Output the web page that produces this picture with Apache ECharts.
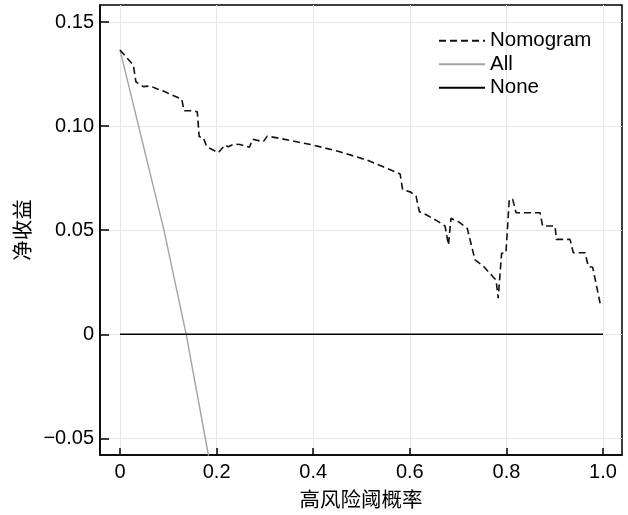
<!DOCTYPE html>
<html>
<head>
<meta charset="utf-8">
<script src="https://cdn.jsdelivr.net/npm/echarts@6/dist/echarts.min.js"></script>
<style>
html,body{margin:0;padding:0;background:#fff;}
#chart{width:628px;height:515px;}
</style>
</head>
<body>
<div id="chart"></div>
<script>
// ---- data ----
var nomogramX = [0, 0.0276, 0.033, 0.048, 0.062, 0.076, 0.093, 0.107, 0.128, 0.1325, 0.148, 0.160, 0.164, 0.1725, 0.1795, 0.190, 0.2035, 0.2174, 0.224, 0.236, 0.248, 0.268, 0.2747, 0.2967, 0.305, 0.331, 0.400, 0.455, 0.511, 0.545, 0.580, 0.585, 0.602, 0.613, 0.6197, 0.635, 0.6557, 0.673, 0.680, 0.6853, 0.7005, 0.719, 0.735, 0.7522, 0.773, 0.7785, 0.783, 0.790, 0.799, 0.806, 0.813, 0.820, 0.8696, 0.875, 0.9006, 0.9036, 0.9317, 0.9385, 0.9627, 0.9697, 0.9786, 0.994];
var nomogramY = [0.1366, 0.1293, 0.1213, 0.119, 0.1193, 0.118, 0.1165, 0.115, 0.1129, 0.1074, 0.1074, 0.1069, 0.0949, 0.0946, 0.0901, 0.0889, 0.0872, 0.0909, 0.0901, 0.0914, 0.0912, 0.0899, 0.0937, 0.0925, 0.0952, 0.0941, 0.0909, 0.0877, 0.0837, 0.0805, 0.077, 0.0696, 0.0683, 0.0664, 0.0589, 0.0573, 0.0546, 0.052, 0.0429, 0.0557, 0.0541, 0.0509, 0.0357, 0.0328, 0.0274, 0.0261, 0.0173, 0.0389, 0.0392, 0.0648, 0.0648, 0.0584, 0.0584, 0.052, 0.052, 0.0456, 0.0456, 0.0392, 0.0392, 0.0325, 0.0322, 0.0149];
var allX = [0, 0.091, 0.137, 0.183, 0.20];
var allY = [0.1366, 0.05, 0, -0.058, -0.08];
var noneX = [0, 1];
var noneY = [0, 0];
var xTicks = [0, 0.2, 0.4, 0.6, 0.8, 1.0];
var xTickLabels = ['0', '0.2', '0.4', '0.6', '0.8', '1.0'];
var yTicks = [-0.05, 0, 0.05, 0.10, 0.15];
var yTickLabels = ['\u22120.05', '0', '0.05', '0.10', '0.15'];
var seriesNames = ['Nomogram', 'All', 'None'];
var xTitle = '高风险阈概率';
var yTitle = '净收益';

function zip(xs, ys) { return xs.map(function (x, i) { return [x, ys[i]]; }); }
function labelFor(ticks, labels) {
  return function (v) {
    for (var i = 0; i < ticks.length; i++) if (Math.abs(ticks[i] - v) < 1e-9) return labels[i];
    return '';
  };
}

var FONT = '"Liberation Sans", Arial, "Noto Sans CJK SC", sans-serif';
var CJK = '"Noto Sans CJK SC", "Liberation Sans", sans-serif';

var gridLines = [];
xTicks.forEach(function (v) { gridLines.push({ xAxis: v }); });
yTicks.forEach(function (v) { gridLines.push({ yAxis: v }); });

var chart = echarts.init(document.getElementById('chart'), null, { renderer: 'canvas' });
chart.setOption({
  animation: false,
  backgroundColor: '#fff',
  grid: { left: 100, right: 6, top: 5, bottom: 60, show: true, borderColor: '#000', borderWidth: 1.5, backgroundColor: 'transparent' },
  legend: {
    data: seriesNames,
    orient: 'vertical',
    left: 433,
    top: 25,
    itemWidth: 46,
    itemHeight: 10,
    itemGap: 2,
    itemStyle: { opacity: 0 },
    textStyle: { fontSize: 20.5, color: '#000', fontFamily: FONT, lineHeight: 21.5 }
  },
  xAxis: {
    type: 'value',
    min: -0.0414,
    max: 1.0393,
    name: xTitle,
    nameLocation: 'middle',
    nameGap: 34,
    nameTextStyle: { fontSize: 20.5, color: '#000', fontFamily: CJK },
    axisLine: { show: true, onZero: false, lineStyle: { color: '#000', width: 1.5 } },
    axisTick: { show: true, inside: true, length: 7, customValues: xTicks, lineStyle: { color: '#000', width: 1.5 } },
    axisLabel: { customValues: xTicks, formatter: labelFor(xTicks, xTickLabels), fontSize: 20, color: '#000', fontFamily: FONT, margin: 7 },
    splitLine: { show: false }
  },
  yAxis: {
    type: 'value',
    min: -0.058,
    max: 0.1582,
    name: yTitle,
    nameLocation: 'middle',
    nameGap: 66,
    nameRotate: 90,
    nameTextStyle: { fontSize: 20.5, color: '#000', fontFamily: CJK },
    axisLine: { show: true, onZero: false, lineStyle: { color: '#000', width: 1.5 } },
    axisTick: { show: true, inside: true, length: 9, customValues: yTicks, lineStyle: { color: '#000', width: 1.5 } },
    axisLabel: { customValues: yTicks, formatter: labelFor(yTicks, yTickLabels), fontSize: 20, color: '#000', fontFamily: FONT, margin: 6 },
    splitLine: { show: false }
  },
  series: [
    {
      name: 'grid', type: 'line', z: 0, silent: true, data: [[0, 0]], symbol: 'none',
      lineStyle: { opacity: 0 },
      markLine: {
        z: 0,
        silent: true, symbol: 'none', animation: false,
        label: { show: false },
        lineStyle: { color: '#e8e8e8', width: 1, type: 'solid' },
        emphasis: { disabled: true },
        data: gridLines
      }
    },
    {
      name: seriesNames[0], type: 'line', z: 4, data: zip(nomogramX, nomogramY), symbol: 'none', showSymbol: false,
      lineStyle: { color: '#111', width: 1.6, type: [7, 4] }, itemStyle: { color: '#111' }
    },
    {
      name: seriesNames[1], type: 'line', z: 3, data: zip(allX, allY), symbol: 'none', showSymbol: false, clip: true,
      lineStyle: { color: '#a3a3a3', width: 1.4 }, itemStyle: { color: '#a3a3a3' }
    },
    {
      name: seriesNames[2], type: 'line', z: 3, data: zip(noneX, noneY), symbol: 'none', showSymbol: false,
      lineStyle: { color: '#000', width: 1.6 }, itemStyle: { color: '#000' }
    }
  ]
});
</script>
</body>
</html>
